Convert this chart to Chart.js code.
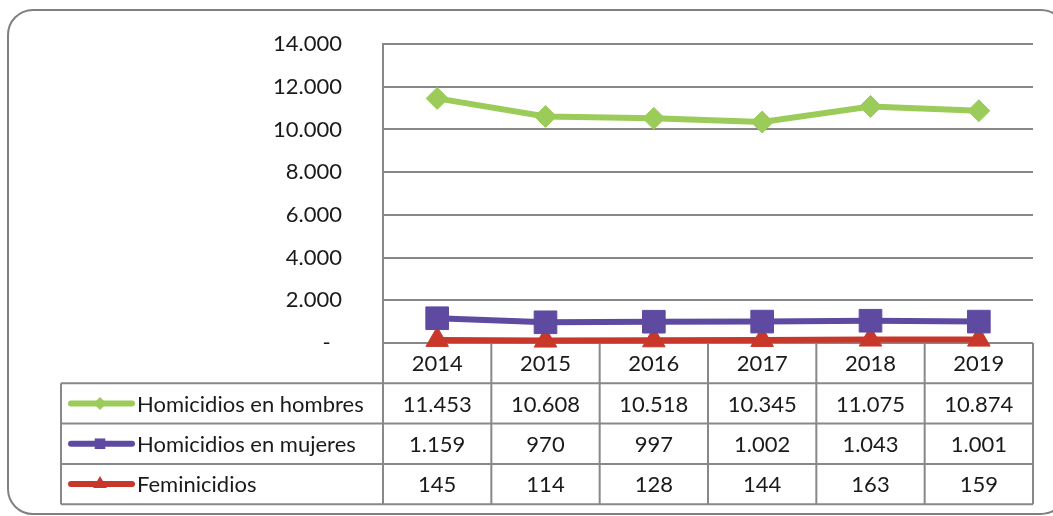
<!DOCTYPE html>
<html><head><meta charset="utf-8">
<script src="https://cdn.jsdelivr.net/npm/chart.js@4/dist/chart.umd.min.js"></script>
<style>html,body{margin:0;padding:0;background:#fff;overflow:hidden}#wrap{width:1053px;height:516px;position:relative}canvas{display:block}</style>
</head><body><div id="wrap"><canvas id="c" width="1053" height="516"></canvas></div>
<script>
const years = ['2014', '2015', '2016', '2017', '2018', '2019'];
const seriesNames = ['Homicidios en hombres', 'Homicidios en mujeres', 'Feminicidios'];
const hombres = [11453, 10608, 10518, 10345, 11075, 10874];
const mujeres = [1159, 970, 997, 1002, 1043, 1001];
const feminicidios = [145, 114, 128, 144, 163, 159];
const yMax = 14000;
const yStep = 2000;

const colors = ['#9BCB58', '#5E4BA1', '#C8382A'];
const styles = ['rectRot', 'rect', 'triangle'];
const FONT = 'Lato, "Open Sans", sans-serif';
const FSIZE = 22;
const TEXT = '#1a1a1a';
const GRID = '#888888';

function fmt(v) {
  if (v === 0) return '-  ';
  const s = String(Math.round(v));
  return s.replace(/\B(?=(\d{3})+(?!\d))/g, '.');
}

const allSeries = [hombres, mujeres, feminicidios];

const frame = {
  id: 'frame',
  beforeDraw(chart) {
    const ctx = chart.ctx;
    ctx.save();
    ctx.strokeStyle = '#808080';
    ctx.lineWidth = 2;
    ctx.beginPath();
    ctx.roundRect(8, 10, 1058, 504, 25);
    ctx.stroke();
    ctx.restore();
  }
};

const table = {
  id: 'table',
  beforeDatasetsDraw(chart) {
    const ctx = chart.ctx;
    const xs = chart.scales.x;
    const area = chart.chartArea;
    const n = years.length;
    const colW = (area.right - area.left) / n;
    const top = area.bottom;
    const rowH = 40.3;
    const left = 61;
    const rows = [top, top + rowH, top + 2 * rowH, top + 3 * rowH, top + 4 * rowH];
    ctx.save();
    ctx.strokeStyle = GRID;
    ctx.lineWidth = 2;
    ctx.beginPath();
    ctx.moveTo(area.left, rows[0]); ctx.lineTo(area.right, rows[0]);
    for (let i = 1; i < rows.length; i++) {
      ctx.moveTo(left, rows[i]); ctx.lineTo(area.right, rows[i]);
    }
    for (let i = 0; i <= n; i++) {
      const x = area.left + i * colW;
      ctx.moveTo(x, rows[0]); ctx.lineTo(x, rows[4]);
    }
    ctx.moveTo(left, rows[1]); ctx.lineTo(left, rows[4]);
    ctx.stroke();

    ctx.fillStyle = TEXT;
    ctx.font = FSIZE + 'px ' + FONT;
    ctx.textAlign = 'center';
    ctx.textBaseline = 'middle';
    years.forEach((y, i) => {
      const x = xs.getPixelForValue(i);
      ctx.fillText(y, x, (rows[0] + rows[1]) / 2 + 1);
    });
    allSeries.forEach((arr, r) => {
      const cy = (rows[r + 1] + rows[r + 2]) / 2 + 1;
      arr.forEach((v, i) => {
        ctx.fillText(fmt(v), xs.getPixelForValue(i), cy);
      });
      ctx.save();
      ctx.strokeStyle = colors[r];
      ctx.lineWidth = 6;
      ctx.lineCap = 'round';
      ctx.beginPath();
      ctx.moveTo(71, cy - 1); ctx.lineTo(132, cy - 1);
      ctx.stroke();
      ctx.fillStyle = colors[r];
      ctx.strokeStyle = colors[r];
      const rad = [6.5, 7.5, 8][r];
      Chart.helpers.drawPoint(ctx, {pointStyle: styles[r], radius: rad, rotation: 0, borderWidth: 0}, 100, cy - 1);
      ctx.restore();
      ctx.textAlign = 'left';
      ctx.fillText(seriesNames[r], 137, cy);
      ctx.textAlign = 'center';
    });
    ctx.restore();
  }
};

new Chart(document.getElementById('c'), {
  type: 'line',
  data: {
    labels: years,
    datasets: [
      {label: seriesNames[0], data: hombres, borderColor: colors[0], backgroundColor: colors[0], pointStyle: 'rectRot', pointRadius: 11, pointBorderWidth: 1},
      {label: seriesNames[1], data: mujeres, borderColor: colors[1], backgroundColor: colors[1], pointStyle: 'rect', pointRadius: 16, pointBorderWidth: 1},
      {label: seriesNames[2], data: feminicidios, borderColor: colors[2], backgroundColor: colors[2], pointStyle: 'triangle', pointRadius: 13, pointBorderWidth: 1}
    ].map(d => Object.assign(d, {borderWidth: 6, tension: 0, clip: false, fill: false}))
  },
  options: {
    responsive: false,
    animation: false,
    devicePixelRatio: 1,
    layout: {padding: {top: 44, right: 20, bottom: 173, left: 0}},
    plugins: {legend: {display: false}, tooltip: {enabled: false}},
    scales: {
      x: {type: 'category', offset: true, display: false},
      y: {
        min: 0, max: yMax,
        afterFit(s) { s.width = 383; s.paddingTop = 12; s.paddingBottom = 12; },
        ticks: {stepSize: yStep, padding: 41, color: TEXT, font: {family: FONT, size: FSIZE}, callback: v => fmt(v)},
        grid: {color: GRID, lineWidth: 2, drawTicks: false},
        border: {display: true, color: GRID, width: 2}
      }
    }
  },
  plugins: [frame, table]
});
</script>
</body></html>
